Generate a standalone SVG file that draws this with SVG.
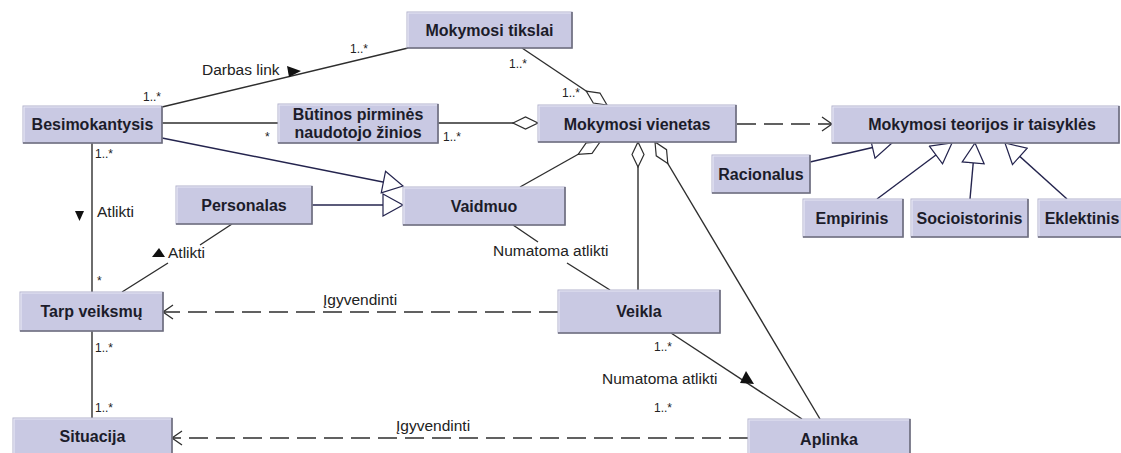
<svg xmlns="http://www.w3.org/2000/svg" width="1121" height="453" viewBox="0 0 1121 453">
  <style>
    .node rect { fill: #c9c9e3; stroke: #b2b2cc; stroke-width: 1; }
    .node .sh { fill: none; stroke: #6c6c7c; stroke-width: 1.6; }
    .node .hl { fill: none; stroke: #e6e6f4; stroke-width: 1.2; }
    .node text { font-family: "Liberation Sans", Arial, sans-serif; font-size: 16px; font-weight: bold; fill: #1c1c2a; text-anchor: middle; }
    .edge { fill: none; stroke: #2e2e2e; stroke-width: 1.4; }
    .gen { fill: none; stroke: #24244e; stroke-width: 1.4; }
    .dash { stroke-dasharray: 19 8; }
    .lbl { font-family: "Liberation Sans", Arial, sans-serif; font-size: 15.5px; fill: #222; }
    .mult { font-family: "Liberation Sans", Arial, sans-serif; font-size: 12px; fill: #222; }
    .dir { fill: #111; stroke: none; }
  </style>
  <defs>
    <marker id="dia" markerWidth="28" markerHeight="14" refX="26" refY="7" orient="auto" markerUnits="userSpaceOnUse">
      <path d="M1,7 L13.5,1 L26,7 L13.5,13 Z" fill="#fff" stroke="#2e2e2e" stroke-width="1.2"/>
    </marker>
    <marker id="tri" markerWidth="23" markerHeight="24" refX="21" refY="12" orient="auto" markerUnits="userSpaceOnUse">
      <path d="M1,1 L21,12 L1,23 Z" fill="#fff" stroke="#24244e" stroke-width="1.2"/>
    </marker>
    <marker id="open" markerWidth="13" markerHeight="16" refX="11" refY="8" orient="auto" markerUnits="userSpaceOnUse">
      <path d="M1,1 L11,8 L1,15" fill="none" stroke="#2e2e2e" stroke-width="1.3"/>
    </marker>
  </defs>

  <rect width="1121" height="453" fill="#fff"/>

  <!-- connectors -->
  <g id="connectors">
    <!-- associations -->
    <path class="edge" d="M162,107 L408,48"/>
    <path class="edge" d="M162,123 H278"/>
    <path class="edge" d="M92,143 V292"/>
    <path class="edge" d="M92,331 V418"/>
    <path class="edge" d="M232,224 L200,245 M168,263 L122,292"/>
    <path class="edge" d="M513,225 L538,242 M567,263 L610,290"/>
    <path class="edge" d="M671,333 L802,419"/>
    <!-- aggregations -->
    <path class="edge" d="M522,48 L607,105" marker-end="url(#dia)"/>
    <path class="edge" d="M438,123 L538,123" marker-end="url(#dia)"/>
    <path class="edge" d="M520,187 L600,142" marker-end="url(#dia)"/>
    <path class="edge" d="M638,290 L638,142" marker-end="url(#dia)"/>
    <path class="edge" d="M820,419 L655,142" marker-end="url(#dia)"/>
    <!-- generalizations -->
    <path class="gen" d="M162,138 L403,186" marker-end="url(#tri)"/>
    <path class="gen" d="M312,205 L403,205" marker-end="url(#tri)"/>
    <path class="gen" d="M810,162 L892,143" marker-end="url(#tri)"/>
    <path class="gen" d="M877,199 L952,143" marker-end="url(#tri)"/>
    <path class="gen" d="M970,199 L975,143" marker-end="url(#tri)"/>
    <path class="gen" d="M1067,199 L1005,143" marker-end="url(#tri)"/>
    <!-- dependencies -->
    <path class="edge dash" d="M737,124 H832" marker-end="url(#open)"/>
    <path class="edge dash" d="M558,312 H163" marker-end="url(#open)"/>
    <path class="edge dash" d="M748,438 H172" marker-end="url(#open)"/>

    <!-- reading direction arrows -->
    <polygon class="dir" points="287,66 301,71 289,77"/>
    <polygon class="dir" points="75,211 84,211 79.5,221"/>
    <polygon class="dir" points="152,257 165,257 159,248"/>
    <polygon class="dir" points="740,383 754,384 746,371"/>

    <!-- labels -->
    <text class="lbl" x="202" y="75">Darbas link</text>
    <text class="lbl" x="97" y="217">Atlikti</text>
    <text class="lbl" x="168" y="258">Atlikti</text>
    <text class="lbl" x="493" y="256">Numatoma atlikti</text>
    <text class="lbl" x="602" y="384">Numatoma atlikti</text>
    <text class="lbl" x="323" y="305">Įgyvendinti</text>
    <text class="lbl" x="396" y="431">Įgyvendinti</text>

    <!-- multiplicities -->
    <text class="mult" x="143" y="101">1..*</text>
    <text class="mult" x="350" y="53">1..*</text>
    <text class="mult" x="509" y="68">1..*</text>
    <text class="mult" x="562" y="97">1..*</text>
    <text class="mult" x="265" y="141">*</text>
    <text class="mult" x="443" y="141">1..*</text>
    <text class="mult" x="95" y="158">1..*</text>
    <text class="mult" x="97" y="285">*</text>
    <text class="mult" x="95" y="352">1..*</text>
    <text class="mult" x="95" y="412">1..*</text>
    <text class="mult" x="654" y="351">1..*</text>
    <text class="mult" x="654" y="412">1..*</text>
  </g>

  <!-- nodes -->
  <g id="mokymosi-tikslai" class="node">
    <rect x="407" y="12" width="165" height="36"/>
    <path class="hl" d="M408,47 V13 H571"/>
    <path class="sh" d="M407,48 H572 V12"/>
    <text x="489.5" y="36">Mokymosi tikslai</text>
  </g>
  <g id="besimokantysis" class="node">
    <rect x="23" y="106" width="139" height="37"/>
    <path class="hl" d="M24,142 V107 H161"/>
    <path class="sh" d="M23,143 H162 V106"/>
    <text x="92.5" y="130">Besimokantysis</text>
  </g>
  <g id="butinos-zinios" class="node">
    <rect x="278" y="104" width="160" height="39"/>
    <path class="hl" d="M279,142 V105 H437"/>
    <path class="sh" d="M278,143 H438 V104"/>
    <text x="358" y="120">Būtinos pirminės</text>
    <text x="358" y="138">naudotojo žinios</text>
  </g>
  <g id="mokymosi-vienetas" class="node">
    <rect x="538" y="105" width="198" height="37"/>
    <path class="hl" d="M539,141 V106 H735"/>
    <path class="sh" d="M538,142 H736 V105"/>
    <text x="637" y="130">Mokymosi vienetas</text>
  </g>
  <g id="mokymosi-teorijos" class="node">
    <rect x="832" y="106" width="287" height="37"/>
    <path class="hl" d="M833,142 V107 H1118"/>
    <path class="sh" d="M832,143 H1119 V106"/>
    <text x="982" y="130">Mokymosi teorijos ir taisyklės</text>
  </g>
  <g id="racionalus" class="node">
    <rect x="712" y="155" width="98" height="38"/>
    <path class="hl" d="M713,192 V156 H809"/>
    <path class="sh" d="M712,193 H810 V155"/>
    <text x="761" y="180">Racionalus</text>
  </g>
  <g id="empirinis" class="node">
    <rect x="803" y="199" width="100" height="38"/>
    <path class="hl" d="M804,236 V200 H902"/>
    <path class="sh" d="M803,237 H903 V199"/>
    <text x="852" y="223.5">Empirinis</text>
  </g>
  <g id="socioistorinis" class="node">
    <rect x="911" y="199" width="117" height="38"/>
    <path class="hl" d="M912,236 V200 H1027"/>
    <path class="sh" d="M911,237 H1028 V199"/>
    <text x="969.5" y="223.5">Socioistorinis</text>
  </g>
  <g id="eklektinis" class="node">
    <rect x="1038" y="199" width="86" height="38"/>
    <path class="hl" d="M1039,236 V200 H1123"/>
    <path class="sh" d="M1038,237 H1124"/>
    <text x="1082" y="223.5">Eklektinis</text>
  </g>
  <g id="personalas" class="node">
    <rect x="176" y="186" width="136" height="38"/>
    <path class="hl" d="M177,223 V187 H311"/>
    <path class="sh" d="M176,224 H312 V186"/>
    <text x="244" y="210.5">Personalas</text>
  </g>
  <g id="vaidmuo" class="node">
    <rect x="403" y="187" width="162" height="38"/>
    <path class="hl" d="M404,224 V188 H564"/>
    <path class="sh" d="M403,225 H565 V187"/>
    <text x="484" y="211.5">Vaidmuo</text>
  </g>
  <g id="tarp-veiksmu" class="node">
    <rect x="20" y="292" width="143" height="39"/>
    <path class="hl" d="M21,330 V293 H162"/>
    <path class="sh" d="M20,331 H163 V292"/>
    <text x="91.5" y="317">Tarp veiksmų</text>
  </g>
  <g id="veikla" class="node">
    <rect x="558" y="290" width="162" height="43"/>
    <path class="hl" d="M559,332 V291 H719"/>
    <path class="sh" d="M558,333 H720 V290"/>
    <text x="639" y="317">Veikla</text>
  </g>
  <g id="situacija" class="node">
    <rect x="13" y="418" width="159" height="40"/>
    <path class="hl" d="M14,457 V419 H171"/>
    <path class="sh" d="M172,418 V458"/>
    <text x="92.5" y="442">Situacija</text>
  </g>
  <g id="aplinka" class="node">
    <rect x="748" y="419" width="162" height="40"/>
    <path class="hl" d="M749,458 V420 H909"/>
    <path class="sh" d="M910,419 V459"/>
    <text x="829" y="445">Aplinka</text>
  </g>
</svg>
